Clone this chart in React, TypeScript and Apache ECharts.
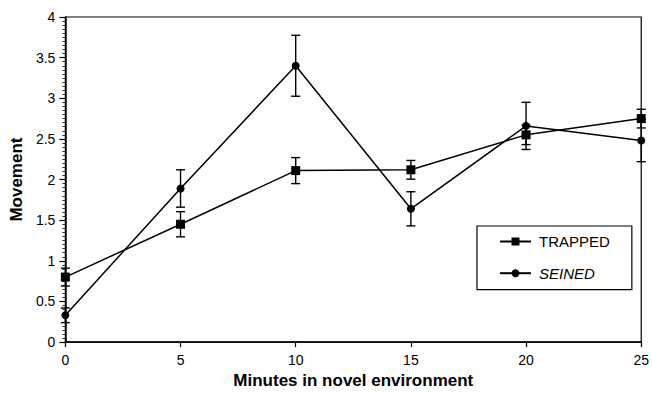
import React, { useEffect, useRef } from "react";
import * as echarts from "echarts";

const minutes = [0, 5, 10, 15, 20, 25];
const trappedMean = [0.8, 1.45, 2.11, 2.12, 2.55, 2.75];
const trappedErr = [0.11, 0.155, 0.16, 0.115, 0.12, 0.115];
const seinedMean = [0.33, 1.89, 3.4, 1.64, 2.66, 2.48];
const seinedErr = [0.09, 0.23, 0.375, 0.21, 0.29, 0.26];
const yTicks = [0, 0.5, 1, 1.5, 2, 2.5, 3, 3.5, 4];

const FONT = "'Liberation Sans', Arial, Helvetica, sans-serif";

function errData(mean: number[], err: number[]) {
  return minutes.map((m, i) => [m, mean[i] - err[i], mean[i] + err[i]]);
}

function errSeries(name: string, mean: number[], err: number[]) {
  return {
    type: "custom",
    name: name + " err",
    data: errData(mean, err),
    encode: { x: 0, y: [1, 2] },
    silent: true,
    z: 3,
    renderItem: (params: any, api: any) => {
      const x = api.value(0);
      const lo = api.coord([x, api.value(1)]);
      const hi = api.coord([x, api.value(2)]);
      const half = 4.5;
      const style = { stroke: "#000", lineWidth: 1.4 };
      return {
        type: "group",
        children: [
          { type: "line", shape: { x1: lo[0], y1: lo[1], x2: hi[0], y2: hi[1] }, style },
          { type: "line", shape: { x1: lo[0] - half, y1: lo[1], x2: lo[0] + half, y2: lo[1] }, style },
          { type: "line", shape: { x1: hi[0] - half, y1: hi[1], x2: hi[0] + half, y2: hi[1] }, style },
        ],
      };
    },
  };
}

export default function App() {
  const ref = useRef<HTMLDivElement>(null);
  useEffect(() => {
    if (!ref.current) return;
    const chart = echarts.init(ref.current, undefined, { renderer: "svg" });
    chart.setOption({
      animation: false,
      backgroundColor: "#fff",
      textStyle: { fontFamily: FONT, color: "#000" },
      grid: {
        left: 63,
        right: 4,
        top: 17,
        bottom: 48,
        show: true,
        borderColor: "#000",
        borderWidth: 1.2,
        backgroundColor: "transparent",
      },
      legend: {
        orient: "vertical",
        left: 477,
        top: 226,
        data: ["TRAPPED", "SEINED"],
        backgroundColor: "#fff",
        borderColor: "#000",
        borderWidth: 1.2,
        padding: [7, 22, 8, 22],
        itemWidth: 31,
        itemHeight: 10,
        itemGap: 14.7,
        formatter: (name: string) => (name === "SEINED" ? "{i|SEINED}" : name),
        textStyle: {
          fontFamily: FONT,
          fontSize: 15,
          lineHeight: 17,
          color: "#000",
          padding: [0, 0, 0, 3],
          rich: { i: { fontStyle: "italic", fontFamily: FONT, fontSize: 15, lineHeight: 17, color: "#000" } },
        },
      },
      xAxis: {
        type: "value",
        min: 0,
        max: 25,
        interval: 5,
        name: "Minutes in novel environment",
        nameLocation: "middle",
        nameGap: 28,
        nameTextStyle: { fontFamily: FONT, fontSize: 17, fontWeight: "bold", color: "#000" },
        axisLine: { lineStyle: { color: "#000", width: 1.5 } },
        axisTick: { show: true, length: 5, inside: false, lineStyle: { color: "#000", width: 1.2 } },
        axisLabel: { fontFamily: FONT, fontSize: 14, color: "#000", margin: 11 },
        splitLine: { show: false },
      },
      yAxis: {
        type: "value",
        min: 0,
        max: 4,
        interval: 0.5,
        name: "Movement",
        nameLocation: "middle",
        nameGap: 38,
        nameTextStyle: { fontFamily: FONT, fontSize: 17, fontWeight: "bold", color: "#000" },
        axisLine: { lineStyle: { color: "#000", width: 1.5 } },
        axisTick: { show: true, length: 6, lineStyle: { color: "#000", width: 1.2 } },
        minorTick: { show: true, splitNumber: 10, length: 3, lineStyle: { color: "#000", width: 0.8 } },
        axisLabel: {
          fontFamily: FONT,
          fontSize: 14,
          color: "#000",
          margin: 10,
          formatter: (v: number) => (yTicks.includes(v) ? String(v) : ""),
        },
        splitLine: { show: false },
      },
      series: [
        errSeries("TRAPPED", trappedMean, trappedErr),
        errSeries("SEINED", seinedMean, seinedErr),
        {
          type: "line",
          name: "TRAPPED",
          data: minutes.map((m, i) => [m, trappedMean[i]]),
          symbol: "rect",
          symbolSize: 9,
          lineStyle: { color: "#000", width: 1.5 },
          itemStyle: { color: "#000", borderWidth: 0 },
          z: 4,
        },
        {
          type: "line",
          name: "SEINED",
          data: minutes.map((m, i) => [m, seinedMean[i]]),
          symbol: "circle",
          symbolSize: 8,
          lineStyle: { color: "#000", width: 1.5 },
          itemStyle: { color: "#000", borderWidth: 0 },
          z: 4,
        },
      ],
    });
    return () => chart.dispose();
  }, []);
  return <div ref={ref} style={{ width: 652, height: 394, position: "absolute", left: 0, top: 0 }} />;
}
